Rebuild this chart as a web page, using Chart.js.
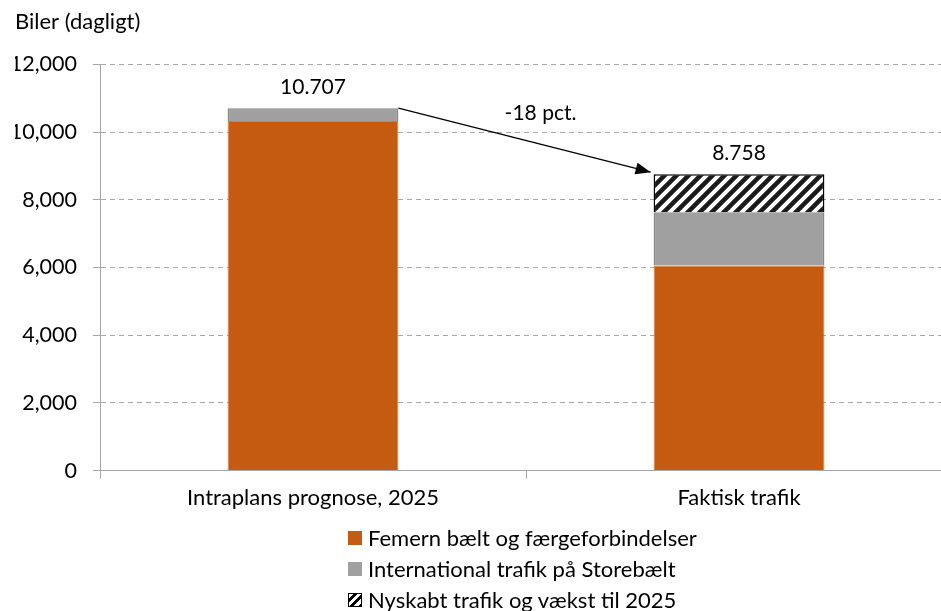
<!DOCTYPE html>
<html>
<head>
<meta charset="utf-8">
<script src="https://cdn.jsdelivr.net/npm/chart.js@4/dist/chart.umd.min.js"></script>
<style>
  html, body { margin: 0; padding: 0; background: #fff; }
  #wrap { position: relative; width: 941px; height: 611px; overflow: hidden; }
  #legend { position: absolute; left: 348px; top: 522px; font: 22px Lato, sans-serif; color: #000; }
  #legend .row { height: 31px; display: flex; align-items: center; }
  #legend .box { width: 14px; height: 14px; margin-right: 6px; box-sizing: border-box; }
</style>
</head>
<body>
<div id="wrap">
  <canvas id="c" width="952" height="611"></canvas>
  <div id="legend"></div>
</div>
<script>
// categories and series
const categories = ["Intraplans prognose, 2025", "Faktisk trafik"]
const femern     = [10330, 6060]
const storebaelt = [377, 1570]
const nyskabt    = [null, 1128]
const seriesNames = [
  "Femern bælt og færgeforbindelser",
  "International trafik på Storebælt",
  "Nyskabt trafik og vækst til 2025"
]
const yTicks = [0, 2000, 4000, 6000, 8000, 10000, 12000]

const ORANGE = "#C55A11"
const GRAY = "#A0A0A0"
const FONT = "Lato, sans-serif"

// diagonal "/" hatch used for the new-traffic segment
function hatch() {
  const s = 12
  const p = document.createElement("canvas")
  p.width = s; p.height = s
  const g = p.getContext("2d")
  g.fillStyle = "#fff"; g.fillRect(0, 0, s, s)
  g.strokeStyle = "#1a1a1a"; g.lineWidth = 4.5
  g.beginPath()
  g.moveTo(-s / 2, s / 2); g.lineTo(s / 2, -s / 2)
  g.moveTo(0, s); g.lineTo(s, 0)
  g.moveTo(s / 2, s + s / 2); g.lineTo(s + s / 2, s / 2)
  g.stroke()
  return g.createPattern(p, "repeat")
}

const totals = categories.map((_, i) => (femern[i] || 0) + (storebaelt[i] || 0) + (nyskabt[i] || 0))
const fmtDot = v => String(v).replace(/\B(?=(\d{3})+(?!\d))/g, ".")

// total labels above bars, plus the arrow with the percentage change
const annotate = {
  id: "annotate",
  afterDatasetsDraw(chart) {
    const { ctx, scales: { y } } = chart
    const bars = chart.getDatasetMeta(0).data
    ctx.save()
    ctx.font = "21px " + FONT
    ctx.fillStyle = "#000"
    ctx.textAlign = "center"
    ctx.textBaseline = "middle"
    totals.forEach((t, i) => {
      ctx.fillText(fmtDot(t), bars[i].x, y.getPixelForValue(t) - 21)
    })

    const half = bars[0].width / 2
    const x0 = bars[0].x + half, y0 = y.getPixelForValue(totals[0])
    const x1 = bars[1].x - half - 3, y1 = y.getPixelForValue(totals[1]) - 2
    ctx.strokeStyle = "#000"; ctx.lineWidth = 1.3
    ctx.beginPath(); ctx.moveTo(x0, y0); ctx.lineTo(x1, y1); ctx.stroke()
    const a = Math.atan2(y1 - y0, x1 - x0), L = 15, W = 6
    ctx.beginPath()
    ctx.moveTo(x1, y1)
    ctx.lineTo(x1 - L * Math.cos(a) + W * Math.sin(a), y1 - L * Math.sin(a) - W * Math.cos(a))
    ctx.lineTo(x1 - L * Math.cos(a) - W * Math.sin(a), y1 - L * Math.sin(a) + W * Math.cos(a))
    ctx.closePath(); ctx.fill()

    const pct = Math.round((totals[1] / totals[0] - 1) * 100)
    ctx.fillText(pct + " pct.", (x0 + x1) / 2 + 16, (y0 + y1) / 2 - 27)
    ctx.restore()
  }
}

const pattern = hatch()

new Chart(document.getElementById("c"), {
  type: "bar",
  data: {
    labels: categories,
    datasets: [
      { label: seriesNames[0], data: femern, backgroundColor: ORANGE, borderColor: "#E07A2E", borderWidth: 1 },
      { label: seriesNames[1], data: storebaelt, backgroundColor: GRAY, borderColor: "#888", borderWidth: 1.5 },
      { label: seriesNames[2], data: nyskabt, backgroundColor: pattern, borderColor: "#000", borderWidth: 1.5 }
    ]
  },
  options: {
    responsive: false,
    animation: false,
    layout: { padding: { left: 15, right: 0, top: 9, bottom: 94 } },
    datasets: { bar: { barPercentage: 0.401, categoryPercentage: 1 } },
    plugins: {
      legend: { display: false },
      tooltip: { enabled: false },
      title: {
        display: true, text: "Biler (dagligt)", align: "start", color: "#000",
        font: { family: FONT, size: 22, weight: "normal" }, padding: { top: 0, bottom: 29 }
      }
    },
    scales: {
      x: {
        stacked: true,
        grid: { drawOnChartArea: false, color: "#A6A6A6", tickLength: 8 },
        border: { color: "#A6A6A6" },
        ticks: { color: "#000", padding: 6, font: { family: FONT, size: 22 } }
      },
      y: {
        stacked: true, min: 0, max: 12000,
        afterFit: s => { s.width = 85 },
        afterBuildTicks: s => { s.ticks = yTicks.map(v => ({ value: v })) },
        grid: { color: "#A6A6A6", tickLength: 7, tickBorderDash: [] },
        border: { color: "#A6A6A6", dash: [5, 4] },
        ticks: { color: "#000", padding: 16, font: { family: FONT, size: 21.5 },
                 callback: v => v.toLocaleString("en-US") }
      }
    }
  },
  plugins: [annotate]
})

// legend, one series per row
const swatches = [
  `background:${ORANGE}`,
  `background:${GRAY}`,
  "border:1.5px solid #000;background:repeating-linear-gradient(135deg,#fff 0 3px,#000 3px 6px)"
]
document.getElementById("legend").innerHTML = seriesNames.map((n, i) =>
  `<div class="row"><span class="box" style="${swatches[i]}"></span>${n}</div>`).join("")
</script>
</body>
</html>
